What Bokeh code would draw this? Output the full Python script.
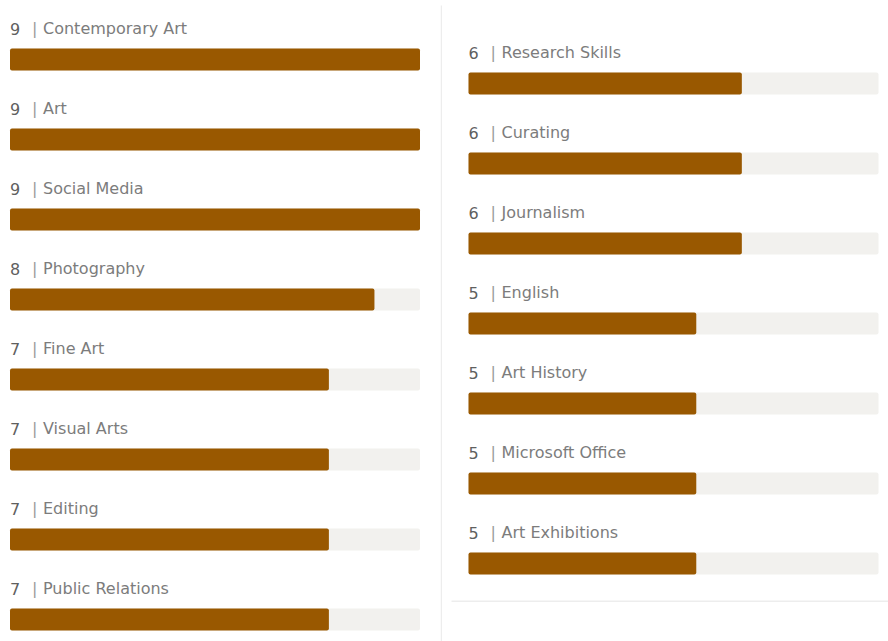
from bokeh.plotting import figure
from bokeh.models import ColumnDataSource, Range1d, BoxAnnotation
from bokeh.layouts import row
from bokeh.core.properties import value
from bokeh.embed import file_html
from bokeh.resources import INLINE

left_skills = ["Contemporary Art", "Art", "Social Media", "Photography",
               "Fine Art", "Visual Arts", "Editing", "Public Relations"]
left_values = [9, 9, 9, 8, 7, 7, 7, 7]
right_skills = ["Research Skills", "Curating", "Journalism", "English",
                "Art History", "Microsoft Office", "Art Exhibitions"]
right_values = [6, 6, 6, 5, 5, 5, 5]
max_value = 9

BAR = "#995800"
TRACK = "#f2f1ee"
FONT = "DejaVu Sans"
FS = "16px"


def make_panel(skills, values, width, x0_px, y0_px):
    px_per_unit = 410.0 / max_value
    n = len(skills)
    idx = list(range(n))
    src = ColumnDataSource(dict(
        y=idx,
        ty=[i - 31 / 80 for i in idx],
        v=values,
        full=[max_value] * n,
        num=[str(v) for v in values],
        pipe=["|"] * n,
        name=skills,
        zero=[0] * n,
    ))
    p = figure(width=width, height=641, output_backend="svg", toolbar_location=None,
               x_axis_type=None, y_axis_type=None, min_border=0,
               x_range=Range1d(-x0_px / px_per_unit, (width - x0_px) / px_per_unit),
               y_range=Range1d((641 - y0_px) / 80, -y0_px / 80))
    p.outline_line_color = None
    p.grid.visible = False
    p.background_fill_color = "white"
    p.border_fill_color = "white"
    p.hbar(y="y", left=0, right="full", height=22 / 80, source=src,
           fill_color=TRACK, line_color=None, border_radius=2)
    p.hbar(y="y", left=0, right="v", height=22 / 80, source=src,
           fill_color=BAR, line_color=None, border_radius=2)
    p.text(x="zero", y="ty", text="num", source=src, text_font=value(FONT),
           text_font_size=FS, text_color="#606060",
           text_baseline="middle", text_align="left")
    p.text(x="zero", y="ty", text="pipe", source=src, text_font=value(FONT),
           text_font_size=FS, text_color="#9a9a9a", x_offset=22,
           text_baseline="middle", text_align="left")
    p.text(x="zero", y="ty", text="name", source=src, text_font=value(FONT),
           text_font_size=FS, text_color="#7c7c7c", x_offset=33,
           text_baseline="middle", text_align="left")
    return p


left = make_panel(left_skills, left_values, 440, 9.5, 59)
right = make_panel(right_skills, right_values, 448, 28, 83)

# screen units for annotations count y from the bottom of the canvas
right.add_layout(BoxAnnotation(left=0, right=1.5, top=636, bottom=0,
                               left_units="screen", right_units="screen",
                               top_units="screen", bottom_units="screen",
                               fill_color="#ededed", fill_alpha=1, line_color=None))
right.add_layout(BoxAnnotation(left=11, right=448, top=41, bottom=39.5,
                               left_units="screen", right_units="screen",
                               top_units="screen", bottom_units="screen",
                               fill_color="#ededed", fill_alpha=1, line_color=None))

layout = row(left, right)
open("out.html", "w").write(file_html(layout, INLINE))
